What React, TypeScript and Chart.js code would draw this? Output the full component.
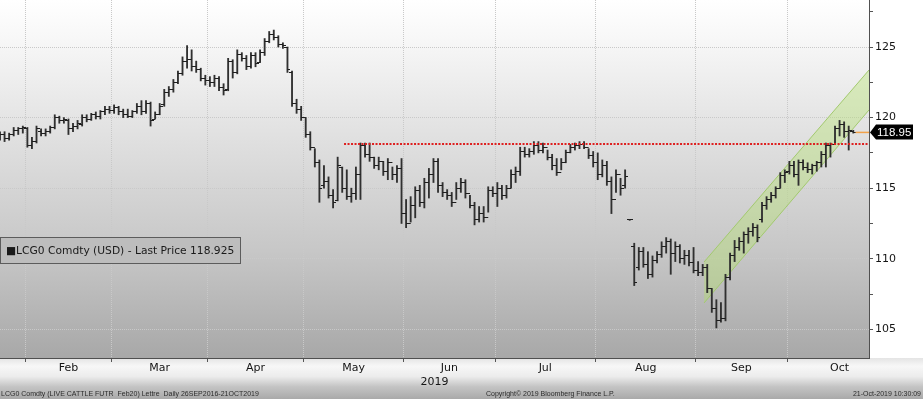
import React, { useEffect, useRef } from 'react';
import { Chart, registerables } from 'chart.js';

Chart.register(...registerables);

// ---- Data (trading-day index 0 = 24-Jan-2019) ----
const highs = [
  119.0, 119.0, 118.9, 119.3, 119.3, 119.4,
  119.3, 118.6, 119.4, 119.2, 119.2, 119.4, 120.2, 120.1, 120.0, 119.9, 119.6, 119.8, 120.2, 120.2, 120.3, 120.4, 120.5, 120.8, 120.8,
  120.9, 120.8, 120.6, 120.6, 120.5, 121.0, 121.2, 121.2, 121.1, 120.4, 121.0, 122.0, 122.2, 122.7, 123.3, 124.3, 125.1, 124.8, 124.0, 123.5, 123.0,
  122.9, 123.0, 122.9, 122.4, 124.2, 124.1, 124.8, 124.6, 124.4, 124.6, 124.6, 124.8, 125.6, 126.1, 126.2, 125.8, 125.3, 125.0, 123.3, 121.3, 120.8,
  120.0, 119.0, 117.8, 117.0, 116.6, 115.8, 114.9, 117.2, 116.5, 116.3, 115.0, 116.5, 118.2, 118.2, 118.2, 117.2, 117.2, 116.9, 117.1, 116.5, 116.6, 117.1,
  114.2, 114.4, 115.1, 115.2, 115.7, 116.4, 117.1, 117.1, 115.4, 114.9, 114.7, 115.4, 115.7, 115.6, 114.5, 114.0, 113.7, 113.7, 115.1, 115.1,
  115.4, 115.2, 115.2, 116.3, 116.5, 117.9, 117.9, 117.8, 118.3, 118.3, 118.2, 117.7, 117.4, 117.1, 117.1, 117.7, 118.1, 118.2, 118.3, 118.3, 117.8, 117.6,
  117.5, 117.0, 116.9, 115.8, 116.3, 115.7, 116.3, 112.78, 111.1, 110.8, 110.8, 110.5, 110.2, 110.5, 111.2, 111.5, 111.4, 111.2, 111.0, 110.6, 110.6, 110.8,
  109.8, 109.6, 109.6, 107.9, 107.1, 106.9, 108.9, 110.4, 111.3, 111.5, 111.9, 112.2, 112.5, 112.4, 114.0, 114.4, 114.7, 115.1, 116.1, 116.3,
  116.9, 116.9, 117.0, 117.0, 116.8, 116.7, 116.9, 117.6, 118.2, 118.2, 119.4, 119.8, 119.7, 119.4, 119.1,
];
const lows = [
  118.4, 118.3, 118.4, 118.7, 118.8, 118.9,
  117.9, 117.8, 118.2, 118.7, 118.7, 118.9, 119.2, 119.6, 119.6, 118.8, 119.0, 119.2, 119.4, 119.7, 119.8, 119.9, 119.9, 120.2, 120.3,
  120.3, 120.2, 120.0, 120.0, 120.0, 120.3, 120.2, 120.3, 119.4, 119.9, 120.2, 120.8, 121.5, 121.8, 122.4, 123.0, 123.5, 123.3, 123.2, 122.6, 122.3,
  122.2, 122.2, 121.9, 121.6, 121.9, 122.8, 123.1, 124.0, 123.4, 123.5, 123.6, 123.9, 124.4, 125.3, 125.5, 125.0, 124.9, 123.2, 120.8, 120.3, 119.8,
  118.6, 117.7, 116.5, 114.0, 115.0, 114.3, 113.6, 114.1, 114.7, 114.2, 114.0, 114.2, 114.2, 117.2, 116.9, 116.4, 116.3, 115.9, 115.6, 115.6, 115.4, 112.5,
  112.2, 112.6, 112.9, 113.7, 113.6, 114.3, 115.4, 114.7, 114.4, 114.2, 113.7, 114.2, 114.7, 114.3, 113.6, 112.4, 112.6, 112.6, 113.3, 114.4,
  113.7, 114.2, 114.3, 115.0, 115.4, 115.9, 117.2, 117.2, 117.4, 117.5, 117.5, 117.0, 116.3, 115.9, 116.3, 116.8, 117.5, 117.7, 117.8, 117.8, 117.1, 116.5,
  115.6, 115.8, 115.2, 113.2, 114.7, 114.5, 115.0, 112.72, 108.1, 109.2, 109.4, 108.6, 108.7, 109.7, 110.1, 110.4, 108.9, 109.8, 109.7, 109.6, 109.5, 109.0,
  108.8, 108.8, 107.6, 106.2, 105.1, 105.5, 105.6, 108.5, 109.8, 110.6, 110.4, 111.1, 111.6, 111.2, 112.6, 113.5, 114.0, 114.3, 115.0, 115.4,
  116.0, 115.8, 115.2, 116.3, 116.1, 116.0, 116.2, 116.5, 116.5, 117.2, 118.1, 118.7, 118.6, 117.7, 118.9,
];
const opens = [
  118.6, 118.8, 118.5, 118.8, 119.1, 119.2,
  119.2, 118.0, 118.3, 119.0, 118.9, 119.0, 119.3, 120.0, 119.8, 119.8, 119.2, 119.4, 119.5, 120.0, 119.9, 120.2, 120.1, 120.4, 120.6,
  120.5, 120.7, 120.4, 120.2, 120.1, 120.4, 120.8, 120.4, 121.0, 119.9, 120.2, 120.9, 121.8, 122.0, 122.5, 123.1, 124.0, 124.1, 123.6, 123.4, 122.8,
  122.6, 122.5, 122.8, 122.1, 122.0, 124.0, 123.2, 124.5, 124.2, 123.6, 124.4, 123.9, 124.6, 125.4, 125.9, 125.7, 125.2, 125.0, 123.2, 121.0, 120.6,
  120.0, 118.8, 117.9, 116.8, 115.2, 115.5, 114.5, 114.1, 116.5, 115.0, 114.4, 114.6, 116.0, 118.0, 117.4, 117.2, 116.6, 116.9, 116.2, 116.8, 116.0, 116.4,
  113.2, 112.5, 113.8, 114.8, 114.0, 115.4, 116.0, 116.9, 115.2, 114.7, 114.5, 114.0, 115.0, 115.4, 114.6, 113.8, 112.8, 113.2, 112.9, 114.8,
  114.6, 115.0, 114.5, 115.0, 116.0, 116.2, 117.6, 117.4, 117.6, 118.0, 117.7, 117.9, 117.2, 116.6, 116.1, 116.8, 117.5, 117.9, 118.0, 118.1, 117.9, 117.3,
  116.8, 116.0, 116.6, 115.5, 114.2, 116.0, 115.2, 112.75, 110.9, 109.4, 110.5, 109.6, 108.9, 109.9, 110.3, 110.9, 111.2, 110.4, 110.9, 110.0, 110.2, 109.7,
  109.2, 109.0, 109.4, 107.9, 106.5, 105.6, 105.8, 108.7, 110.2, 110.8, 111.2, 111.7, 111.9, 112.2, 112.8, 113.8, 114.2, 114.5, 115.0, 115.9,
  116.2, 116.6, 116.0, 116.8, 116.5, 116.3, 116.6, 116.8, 117.4, 118.0, 118.1, 119.2, 119.5, 119.0, 119.0,
];
const closes = [
  118.8, 118.5, 118.8, 119.1, 119.2, 119.3,
  118.0, 118.3, 119.2, 118.9, 119.0, 119.3, 120.0, 119.8, 119.9, 119.2, 119.4, 119.6, 120.0, 119.9, 120.2, 120.1, 120.4, 120.6, 120.5,
  120.7, 120.4, 120.2, 120.1, 120.4, 120.8, 120.4, 121.0, 119.8, 120.2, 120.8, 121.8, 122.0, 122.5, 123.1, 124.0, 124.1, 123.6, 123.4, 122.8, 122.6,
  122.5, 122.8, 122.1, 121.9, 124.0, 123.2, 124.5, 124.2, 123.6, 124.4, 123.8, 124.6, 125.4, 125.9, 125.7, 125.2, 125.1, 123.4, 121.0, 120.6, 120.0,
  118.8, 117.9, 116.8, 115.0, 115.5, 114.5, 114.0, 116.6, 115.0, 114.4, 114.6, 116.0, 118.0, 117.4, 117.2, 116.6, 116.9, 116.2, 116.8, 116.0, 116.4, 113.2,
  112.5, 113.8, 114.8, 114.0, 115.4, 116.0, 116.9, 115.2, 114.7, 114.5, 114.0, 115.0, 115.4, 114.6, 113.8, 112.8, 113.2, 112.9, 114.8, 114.6,
  115.0, 114.5, 115.0, 116.0, 116.2, 117.6, 117.4, 117.6, 118.0, 117.7, 117.9, 117.2, 116.6, 116.1, 116.8, 117.5, 117.9, 118.0, 118.1, 117.9, 117.3, 116.8,
  116.0, 116.6, 115.5, 114.2, 116.0, 115.0, 115.8, 112.75, 108.3, 110.5, 109.6, 108.9, 109.9, 110.3, 110.9, 111.2, 110.4, 110.9, 110.0, 110.2, 109.7, 109.2,
  109.0, 109.4, 107.9, 106.5, 105.6, 105.8, 108.7, 110.2, 110.8, 111.2, 111.7, 111.9, 112.2, 111.5, 113.8, 114.2, 114.5, 115.0, 115.9, 116.1,
  116.6, 116.0, 116.8, 116.5, 116.3, 116.6, 116.8, 117.4, 118.0, 118.1, 119.2, 119.5, 119.0, 119.1, 118.95,
];

const monthNames = ['Feb', 'Mar', 'Apr', 'May', 'Jun', 'Jul', 'Aug', 'Sep', 'Oct'];
// index boundaries where each month starts (last entry = end of Oct)
const monthStarts = [5.5, 24.5, 45.5, 66.5, 88.5, 108.5, 130.5, 152.5, 172.5, 195.5];
const yTickValues = [105, 107.5, 110, 112.5, 115, 117.5, 120, 122.5, 125, 127.5];
const yMin = 102.97;
const yMax = 128.33;
const xMin = 0;
const xMax = 190.45;

const resistanceLevel = 118.13;
const resistanceFrom = 75.4;
const channelX = [154.3, 190.45];
const channelUpper = [109.77, 123.37];
const channelLower = [106.87, 120.54];
const lastPrice = 118.95;
const lastPriceLabel = '118.95';
const legendText = '\u25A0LCG0 Comdty (USD) - Last Price 118.925';
const xTitle = '2019';
const footerLeft = 'LCG0 Comdty (LIVE CATTLE FUTR  Feb20) Lettre  Daily 26SEP2016-21OCT2019';
const footerMid = 'Copyright\u00A9 2019 Bloomberg Finance L.P.';
const footerRight = '21-Oct-2019 10:30:09';

const FONT = "'DejaVu Sans', sans-serif";

export default function App() {
  const ref = useRef<HTMLCanvasElement | null>(null);

  useEffect(() => {
    const canvas = ref.current;
    if (!canvas) return;

    const makeTick = (left: boolean) => {
      const c = document.createElement('canvas');
      c.width = 6;
      c.height = 1;
      const g = c.getContext('2d')!;
      g.fillStyle = '#1e1e1e';
      g.fillRect(left ? 0 : 3, 0, 3, 1);
      return c;
    };
    const openImg = makeTick(true);
    const closeImg = makeTick(false);

    const idx = highs.map((_, i) => i);
    const boundaries = monthStarts.slice(0, 9);
    const mids = monthNames.map((_, i) => (monthStarts[i] + monthStarts[i + 1]) / 2);
    const isBoundary = (v: number) => boundaries.some((b) => Math.abs(b - v) < 1e-6);
    const midLabel = (v: number) => {
      const k = mids.findIndex((m) => Math.abs(m - v) < 1e-6);
      return k >= 0 ? monthNames[k] : '';
    };

    const bgPlugin = {
      id: 'bgPlugin',
      beforeDraw(chart: any) {
        const { ctx, chartArea: a, width, height } = chart;
        ctx.save();
        const gb = ctx.createLinearGradient(0, a.bottom, 0, height);
        gb.addColorStop(0, '#e4e4e4');
        gb.addColorStop(0.2, '#f7f7f7');
        gb.addColorStop(0.45, '#ececec');
        gb.addColorStop(0.7, '#c4c4c4');
        gb.addColorStop(1, '#a9a9a9');
        ctx.fillStyle = gb;
        ctx.fillRect(0, a.bottom, width, height - a.bottom);
        ctx.fillStyle = '#ffffff';
        ctx.fillRect(a.right, 0, width - a.right, a.bottom);
        const g = ctx.createLinearGradient(0, a.top, 0, a.bottom);
        g.addColorStop(0, '#ffffff');
        g.addColorStop(0.1, '#f8f8f8');
        g.addColorStop(0.4, '#dfdfdf');
        g.addColorStop(0.7, '#c7c7c7');
        g.addColorStop(1, '#a8a8a8');
        ctx.fillStyle = g;
        ctx.fillRect(a.left, a.top, a.right - a.left, a.bottom - a.top);
        ctx.restore();
      },
    };

    const overlayPlugin = {
      id: 'overlayPlugin',
      afterDraw(chart: any) {
        const { ctx, chartArea: a, scales, width } = chart;
        ctx.save();
        // legend box
        ctx.fillStyle = '#bdbdbd';
        ctx.fillRect(0.5, 237.5, 240, 26);
        ctx.strokeStyle = '#5c5c5c';
        ctx.lineWidth = 1;
        ctx.strokeRect(0.5, 237.5, 240, 26);
        ctx.fillStyle = '#1a1a1a';
        ctx.font = `10.7px ${FONT}`;
        ctx.textBaseline = 'middle';
        ctx.textAlign = 'left';
        ctx.fillText(legendText, 6, 251);

        // last price tag
        const py = Math.round(scales.y.getPixelForValue(lastPrice)) + 0.5;
        const x0 = a.right + 1;
        ctx.fillStyle = '#000000';
        ctx.beginPath();
        ctx.moveTo(x0, py);
        ctx.lineTo(x0 + 6, py - 8);
        ctx.lineTo(913, py - 8);
        ctx.lineTo(913, py + 7);
        ctx.lineTo(x0 + 6, py + 7);
        ctx.closePath();
        ctx.fill();
        ctx.fillStyle = '#ffffff';
        ctx.font = "11.5px 'Liberation Sans', sans-serif";
        ctx.textBaseline = 'middle';
        ctx.fillText(lastPriceLabel, x0 + 7, py);

        // footer
        ctx.fillStyle = '#2b2b2b';
        ctx.font = "7px 'Liberation Sans', sans-serif";
        ctx.textBaseline = 'alphabetic';
        ctx.textAlign = 'left';
        ctx.fillText(footerLeft, 1, 396);
        ctx.fillText(footerMid, 486, 396);
        ctx.textAlign = 'right';
        ctx.fillText(footerRight, width - 2, 396);
        ctx.restore();
      },
    };

    const gridColor = '#c9c9c9';

    const chart = new Chart(canvas, {
      type: 'bar',
      data: {
        datasets: [
          {
            type: 'line',
            data: [
              { x: resistanceFrom, y: resistanceLevel },
              { x: xMax, y: resistanceLevel },
            ],
            borderColor: '#de2020',
            borderWidth: 2,
            borderDash: [2, 1.5],
            pointRadius: 0,
            fill: false,
            order: 0,
          } as any,
          {
            type: 'line',
            data: [
              { x: idx[idx.length - 1] + 0.5, y: lastPrice },
              { x: xMax, y: lastPrice },
            ],
            borderColor: '#f2a24a',
            borderWidth: 1.5,
            pointRadius: 0,
            fill: false,
            order: 0,
          } as any,
          {
            type: 'scatter',
            data: idx.map((i) => ({ x: i, y: opens[i] })),
            pointStyle: openImg,
            pointRadius: 3,
            pointHoverRadius: 3,
            order: 1,
          } as any,
          {
            type: 'scatter',
            data: idx.map((i) => ({ x: i, y: closes[i] })),
            pointStyle: closeImg,
            pointRadius: 3,
            pointHoverRadius: 3,
            order: 1,
          } as any,
          {
            type: 'bar',
            data: idx.map((i) => ({ x: i, y: [lows[i], highs[i]] })),
            backgroundColor: '#303030',
            borderWidth: 0,
            barThickness: 1.2,
            grouped: false,
            order: 2,
          } as any,
          {
            type: 'line',
            data: channelX.map((x, k) => ({ x, y: channelUpper[k] })),
            borderColor: '#a2c96e',
            borderWidth: 1,
            pointRadius: 0,
            fill: false,
            order: 3,
          } as any,
          {
            type: 'line',
            data: channelX.map((x, k) => ({ x, y: channelLower[k] })),
            borderColor: '#a2c96e',
            borderWidth: 1,
            pointRadius: 0,
            fill: '-1',
            backgroundColor: 'rgba(178, 226, 104, 0.38)',
            order: 3,
          } as any,
        ],
      },
      options: {
        animation: false,
        responsive: false,
        events: [],
        layout: { padding: 0, autoPadding: false },
        plugins: {
          legend: { display: false },
          tooltip: { enabled: false },
          title: { display: false },
        },
        scales: {
          x: {
            type: 'linear',
            position: 'bottom',
            min: xMin,
            max: xMax,
            offset: false,
            afterBuildTicks: (s: any) => {
              s.ticks = [...boundaries, ...mids].sort((p, q) => p - q).map((v) => ({ value: v }));
            },
            afterFit: (s: any) => {
              s.height = 41;
              s.paddingLeft = 0;
              s.paddingRight = 0;
            },
            ticks: {
              autoSkip: false,
              maxRotation: 0,
              minRotation: 0,
              padding: 0,
              color: '#151515',
              font: { family: FONT, size: 11 },
              callback: (v: any) => midLabel(Number(v)),
            },
            grid: {
              offset: false,
              drawOnChartArea: true,
              color: (c: any) => (c.tick && isBoundary(c.tick.value) ? gridColor : 'rgba(0,0,0,0)'),
              tickColor: (c: any) => (c.tick && isBoundary(c.tick.value) ? '#555555' : 'rgba(0,0,0,0)'),
              tickLength: 4,
              lineWidth: 1,
            },
            border: { display: true, color: '#505050', width: 1, dash: [1, 1] },
            title: {
              display: true,
              text: xTitle,
              color: '#151515',
              font: { family: FONT, size: 11 },
              padding: { top: 0, bottom: 10 },
            },
          } as any,
          y: {
            type: 'linear',
            position: 'right',
            min: yMin,
            max: yMax,
            afterBuildTicks: (s: any) => {
              s.ticks = yTickValues.map((v) => ({ value: v }));
            },
            afterFit: (s: any) => {
              s.width = 54;
              s.paddingTop = 0;
              s.paddingBottom = 0;
            },
            ticks: {
              autoSkip: false,
              padding: 2,
              color: '#151515',
              font: { family: FONT, size: 11 },
              callback: (v: any) => (Number(v) % 5 === 0 ? String(v) : ''),
            },
            grid: {
              color: (c: any) => (c.tick && c.tick.value % 5 === 0 ? gridColor : 'rgba(0,0,0,0)'),
              tickColor: '#555555',
              tickLength: 4,
              lineWidth: 1,
            },
            border: { display: true, color: '#505050', width: 1, dash: [1, 1] },
          } as any,
        },
      },
      plugins: [bgPlugin, overlayPlugin],
    } as any);

    return () => chart.destroy();
  }, []);

  return (
    <div style={{ position: 'fixed', left: 0, top: 0, width: 923, height: 399 }}>
      <canvas ref={ref} width={923} height={399} style={{ display: 'block', width: 923, height: 399 }} />
    </div>
  );
}
